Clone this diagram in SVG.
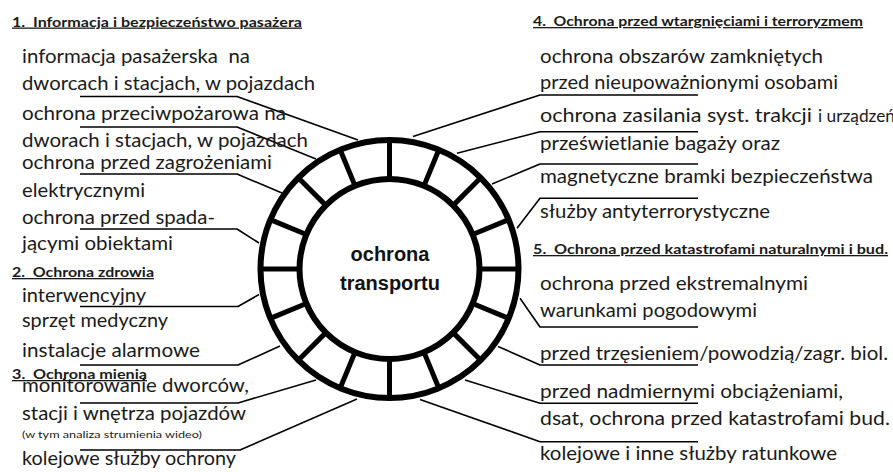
<svg xmlns="http://www.w3.org/2000/svg" xmlns:xlink="http://www.w3.org/1999/xlink" width="893" height="472" viewBox="0 0 893 472">
<style>
.t{font-family:Lato,"Noto Sans","Liberation Sans",sans-serif;font-size:20px;fill:#1a1a1a;white-space:pre}
.h{font-family:Lato,"Noto Sans","Liberation Sans",sans-serif;font-size:13px;font-weight:700;fill:#1a1a1a;text-decoration:underline;white-space:pre}
.s{font-size:10px}
.m{font-size:17px}
.c{font-family:"Liberation Sans",Arial,sans-serif;font-size:20px;font-weight:700;fill:#111;text-anchor:middle}
.ring{fill:none;stroke:#000;stroke-width:6}
.sp{stroke:#000;stroke-width:5}
.con{fill:none;stroke:#000;stroke-width:1.6;stroke-linejoin:round}
</style>
<defs>
<line id="spoke" class="sp" x1="0" y1="-90" x2="0" y2="-129"/>
</defs>
<rect width="893" height="472" fill="#fff"/>

<g id="connectors">
<path class="con" d="M80,96.5 H237 L358,140"/>
<path class="con" d="M80,127 H237 L316,159"/>
<path class="con" d="M80,174 H237 L282,193"/>
<path class="con" d="M80,229 H237 L259,243"/>
<path class="con" d="M80,306.5 H238 L259,294.5"/>
<path class="con" d="M80,365 H238 L280,346"/>
<path class="con" d="M80,403 H238 L316,380"/>
<path class="con" d="M80,450 H240 L357,399"/>
<path class="con" d="M698,95 H540 L413,136.5"/>
<path class="con" d="M698,131.7 H540 L457,153.3"/>
<path class="con" d="M698,164 H540 L492,184"/>
<path class="con" d="M698,198.3 H540 L517,228.3"/>
<path class="con" d="M698,327 H540 L520,298.3"/>
<path class="con" d="M698,365 H540 L498,346.4"/>
<path class="con" d="M698,403.3 H540 L465,380"/>
<path class="con" d="M698,441.7 H540 L420,399.4"/>
</g>

<g id="center" transform="translate(389.5,269)">
<circle class="ring" r="129"/>
<circle class="ring" r="90"/>
<use xlink:href="#spoke"/>
<use xlink:href="#spoke" transform="rotate(22.5)"/>
<use xlink:href="#spoke" transform="rotate(45)"/>
<use xlink:href="#spoke" transform="rotate(67.5)"/>
<use xlink:href="#spoke" transform="rotate(90)"/>
<use xlink:href="#spoke" transform="rotate(112.5)"/>
<use xlink:href="#spoke" transform="rotate(135)"/>
<use xlink:href="#spoke" transform="rotate(157.5)"/>
<use xlink:href="#spoke" transform="rotate(180)"/>
<use xlink:href="#spoke" transform="rotate(202.5)"/>
<use xlink:href="#spoke" transform="rotate(225)"/>
<use xlink:href="#spoke" transform="rotate(247.5)"/>
<use xlink:href="#spoke" transform="rotate(270)"/>
<use xlink:href="#spoke" transform="rotate(292.5)"/>
<use xlink:href="#spoke" transform="rotate(315)"/>
<use xlink:href="#spoke" transform="rotate(337.5)"/>
<text class="c" x="0.5" y="-8">ochrona</text>
<text class="c" x="0.5" y="21">transportu</text>
</g>

<g id="group1">
<text class="h" x="12" y="26.5" textLength="290" lengthAdjust="spacingAndGlyphs">1.  Informacja i bezpieczeństwo pasażera</text>
<g id="n1-1">
<text class="t" x="22" y="63.3" textLength="228" lengthAdjust="spacingAndGlyphs">informacja pasażerska  na</text>
<text class="t" x="22" y="90" textLength="293" lengthAdjust="spacingAndGlyphs">dworcach i stacjach, w pojazdach</text>
</g>
<g id="n1-2">
<text class="t" x="22" y="120" textLength="264" lengthAdjust="spacingAndGlyphs">ochrona przeciwpożarowa na</text>
<text class="t" x="22" y="147" textLength="286" lengthAdjust="spacingAndGlyphs">dworach i stacjach, w pojazdach</text>
</g>
<g id="n1-3">
<text class="t" x="22" y="169.3" textLength="250" lengthAdjust="spacingAndGlyphs">ochrona przed zagrożeniami</text>
<text class="t" x="22" y="196.7" textLength="123" lengthAdjust="spacingAndGlyphs">elektrycznymi</text>
</g>
<g id="n1-4">
<text class="t" x="22" y="224" textLength="193" lengthAdjust="spacingAndGlyphs">ochrona przed spada-</text>
<text class="t" x="22" y="250" textLength="151" lengthAdjust="spacingAndGlyphs">jącymi obiektami</text>
</g>
</g>

<g id="group2">
<text class="h" x="12" y="277" textLength="142" lengthAdjust="spacingAndGlyphs">2.  Ochrona zdrowia</text>
<g id="n2-1">
<text class="t" x="22" y="301.7" textLength="124" lengthAdjust="spacingAndGlyphs">interwencyjny</text>
<text class="t" x="22" y="326.7" textLength="146" lengthAdjust="spacingAndGlyphs">sprzęt medyczny</text>
</g>
<g id="n2-2">
<text class="t" x="22" y="356.7" textLength="178" lengthAdjust="spacingAndGlyphs">instalacje alarmowe</text>
</g>
</g>

<g id="group3">
<text class="h" x="12" y="379" textLength="135" lengthAdjust="spacingAndGlyphs">3.  Ochrona mienia</text>
<g id="n3-1">
<text class="t" x="22" y="391.7" textLength="227" lengthAdjust="spacingAndGlyphs">monitorowanie dworców,</text>
<text class="t" x="22" y="420" textLength="224" lengthAdjust="spacingAndGlyphs">stacji i wnętrza pojazdów</text>
<text class="t s" x="22" y="438.3" textLength="180" lengthAdjust="spacingAndGlyphs">(w tym analiza strumienia wideo)</text>
</g>
<g id="n3-2">
<text class="t" x="22" y="465" textLength="214" lengthAdjust="spacingAndGlyphs">kolejowe służby ochrony</text>
</g>
</g>

<g id="group4">
<text class="h" x="533" y="26" textLength="330" lengthAdjust="spacingAndGlyphs">4.  Ochrona przed wtargnięciami i terroryzmem</text>
<g id="n4-1">
<text class="t" x="540" y="63.3" textLength="283" lengthAdjust="spacingAndGlyphs">ochrona obszarów zamkniętych</text>
<text class="t" x="540" y="89.3" textLength="298" lengthAdjust="spacingAndGlyphs">przed nieupoważnionymi osobami</text>
</g>
<g id="n4-2">
<text class="t" x="540" y="121.7" textLength="272" lengthAdjust="spacingAndGlyphs">ochrona zasilania syst. trakcji</text>
<text class="t m" x="818" y="121.7" textLength="77" lengthAdjust="spacingAndGlyphs">i urządzeń</text>
</g>
<g id="n4-3">
<text class="t" x="540" y="150" textLength="240" lengthAdjust="spacingAndGlyphs">prześwietlanie bagaży oraz</text>
<text class="t" x="540" y="183.3" textLength="333" lengthAdjust="spacingAndGlyphs">magnetyczne bramki bezpieczeństwa</text>
</g>
<g id="n4-4">
<text class="t" x="540" y="218.3" textLength="230" lengthAdjust="spacingAndGlyphs">służby antyterrorystyczne</text>
</g>
</g>

<g id="group5">
<text class="h" x="533" y="254" textLength="355" lengthAdjust="spacingAndGlyphs">5.  Ochrona przed katastrofami naturalnymi i bud.</text>
<g id="n5-1">
<text class="t" x="540" y="290" textLength="268" lengthAdjust="spacingAndGlyphs">ochrona przed ekstremalnymi</text>
<text class="t" x="540" y="316.7" textLength="217" lengthAdjust="spacingAndGlyphs">warunkami pogodowymi</text>
</g>
<g id="n5-2">
<text class="t" x="540" y="360" textLength="348" lengthAdjust="spacingAndGlyphs">przed trzęsieniem/powodzią/zagr. biol.</text>
</g>
<g id="n5-3">
<text class="t" x="540" y="398.3" textLength="303" lengthAdjust="spacingAndGlyphs">przed nadmiernymi obciążeniami,</text>
<text class="t" x="540" y="425" textLength="350" lengthAdjust="spacingAndGlyphs">dsat, ochrona przed katastrofami bud.</text>
</g>
<g id="n5-4">
<text class="t" x="540" y="460" textLength="297" lengthAdjust="spacingAndGlyphs">kolejowe i inne służby ratunkowe</text>
</g>
</g>
</svg>
